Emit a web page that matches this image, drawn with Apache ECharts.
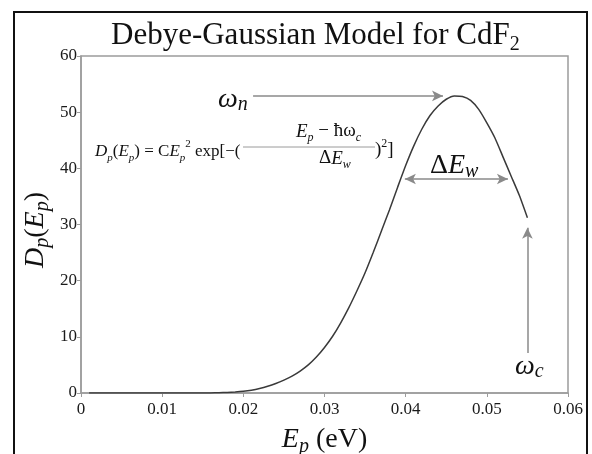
<!DOCTYPE html>
<html>
<head>
<meta charset="utf-8">
<script src="https://cdn.jsdelivr.net/npm/echarts@6/dist/echarts.min.js"></script>
<style>
  html, body { margin: 0; padding: 0; background: #fff; }
  #main { width: 592px; height: 454px; }
</style>
</head>
<body>
<div id="main"></div>
<script>
// phonon energy (eV) and density
var energies = [0.001, 0.002, 0.003, 0.004, 0.005, 0.006, 0.007, 0.008, 0.009, 0.010,
  0.011, 0.012, 0.013, 0.014, 0.015, 0.016, 0.017, 0.018, 0.019, 0.020,
  0.021, 0.022, 0.023, 0.024, 0.025, 0.026, 0.027, 0.028, 0.029, 0.030,
  0.031, 0.032, 0.033, 0.034, 0.035, 0.036, 0.037, 0.038, 0.039, 0.040,
  0.041, 0.042, 0.043, 0.044, 0.045, 0.046, 0.047, 0.048, 0.049, 0.050,
  0.051, 0.052, 0.053, 0.054, 0.055];
var density = [0, 0, 0, 0, 0, 0, 0, 0, 0, 0,
  0, 0, 0, 0, 0, 0.02, 0.05, 0.1, 0.18, 0.3,
  0.5, 0.8, 1.2, 1.7, 2.3, 3.0, 3.9, 5.0, 6.4, 8.1,
  10.1, 12.5, 15.2, 18.2, 21.4, 25.0, 28.8, 32.6, 36.6, 40.5,
  44.0, 47.0, 49.4, 51.1, 52.3, 52.9, 52.8, 52.1, 50.5, 48.1,
  45.4, 42.0, 38.6, 35.2, 31.2];
var yTicks = [0, 10, 20, 30, 40, 50, 60];
var xTicks = [0, 0.01, 0.02, 0.03, 0.04, 0.05, 0.06];

// annotation arrows (data coords)
var arrowOmegaN = [[0.0212, 52.9], [0.0446, 52.9]];
var arrowWidth = [[0.0399, 38.1], [0.0526, 38.1]];
var arrowOmegaC = [[0.0550, 7.1], [0.0550, 29.4]];

var serif = '"Liberation Serif", "DejaVu Serif", serif';
var grey = '#8a8a8a';

var chart = echarts.init(document.getElementById('main'));

var points = energies.map(function (e, i) { return [e, density[i]]; });

chart.setOption({
  animation: false,
  backgroundColor: '#fff',
  title: {
    text: 'Debye-Gaussian Model for CdF{s|2}',
    left: 106,
    top: 12,
    textStyle: {
      fontFamily: serif, fontSize: 31, fontWeight: 'normal', color: '#111',
      rich: {
        s: { fontFamily: serif, fontSize: 20, color: '#111', verticalAlign: 'bottom', lineHeight: 38 }
      }
    }
  },
  grid: {
    left: 81, right: 24, top: 56, bottom: 61,
    outerBoundsMode: 'none',
    containLabel: false,
    show: true, borderColor: '#9c9c9c', borderWidth: 1.5
  },
  xAxis: {
    type: 'value', min: 0, max: 0.06, interval: 0.01,
    axisLine: { lineStyle: { color: '#9c9c9c', width: 1.5 } },
    axisTick: { show: true, length: 4, lineStyle: { color: '#9c9c9c' } },
    splitLine: { show: false },
    axisLabel: {
      margin: 8, color: '#1a1a1a', fontFamily: serif, fontSize: 17,
      formatter: function (v) { return v === 0 ? '0' : v.toFixed(2); }
    },
    name: '{i|E}{si|p} (eV)',
    nameLocation: 'middle',
    nameGap: 30,
    nameTextStyle: {
      fontFamily: serif, fontSize: 28, color: '#111',
      rich: {
        i: { fontFamily: serif, fontSize: 28, fontStyle: 'italic', color: '#111' },
        si: { fontFamily: serif, fontSize: 20, fontStyle: 'italic', color: '#111', verticalAlign: 'bottom', lineHeight: 34 }
      }
    }
  },
  yAxis: {
    type: 'value', min: 0, max: 60, interval: 10,
    axisLine: { show: true, lineStyle: { color: '#9c9c9c', width: 1.5 } },
    axisTick: { show: true, length: 4, lineStyle: { color: '#9c9c9c' } },
    splitLine: { show: false },
    axisLabel: { margin: 4, color: '#1a1a1a', fontFamily: serif, fontSize: 17 }
  },
  series: [{
    type: 'line',
    data: points,
    showSymbol: false,
    smooth: 0.2,
    lineStyle: { color: '#3a3a3a', width: 1.5 },
    markLine: {
      silent: true,
      label: { show: false },
      lineStyle: { color: grey, width: 1.5, type: 'solid' },
      symbolSize: [8, 11],
      data: [
        [{ coord: arrowOmegaN[0], symbol: 'none' }, { coord: arrowOmegaN[1], symbol: 'arrow' }],
        [{ coord: arrowWidth[0], symbol: 'arrow' }, { coord: arrowWidth[1], symbol: 'arrow' }],
        [{ coord: arrowOmegaC[0], symbol: 'none' }, { coord: arrowOmegaC[1], symbol: 'arrow' }]
      ]
    }
  }],
  graphic: [
    // outer frame, open at the bottom edge
    { type: 'rect', shape: { x: 14, y: 12, width: 573, height: 470 },
      style: { fill: null, stroke: '#111', lineWidth: 2 }, silent: true },
    // y axis title D_p(E_p)
    { type: 'text', x: 36, y: 230, rotation: Math.PI / 2, style: {
      text: '{i|D}{s|p}({i|E}{s|p})', fontFamily: serif, fontSize: 28, fill: '#111',
      align: 'center', verticalAlign: 'middle',
      rich: {
        i: { fontFamily: serif, fontSize: 28, fontStyle: 'italic', fill: '#111' },
        s: { fontFamily: serif, fontSize: 20, fontStyle: 'italic', fill: '#111', verticalAlign: 'bottom', lineHeight: 34 }
      } } },
    // omega_n
    { type: 'text', left: 218, top: 86, style: {
      text: '{w|ω}{s|n}', fontFamily: serif,
      rich: {
        w: { fontFamily: serif, fontSize: 28, fontStyle: 'italic', fill: '#111' },
        s: { fontFamily: serif, fontSize: 20, fontStyle: 'italic', fill: '#111', verticalAlign: 'bottom', lineHeight: 30 }
      } } },
    // formula, left part
    { type: 'text', left: 95, top: 139, style: {
      text: '{i|D}{s|p}({i|E}{s|p}) = C{i|E}{s|p}{u|2} exp[−(', fontFamily: serif, fontSize: 17, fill: '#111',
      rich: {
        i: { fontFamily: serif, fontSize: 17, fontStyle: 'italic', fill: '#111' },
        s: { fontFamily: serif, fontSize: 11, fontStyle: 'italic', fill: '#111', verticalAlign: 'bottom', lineHeight: 25 },
        u: { fontFamily: serif, fontSize: 11, fill: '#111', verticalAlign: 'top', lineHeight: 24 }
      } } },
    // numerator
    { type: 'text', left: 296, top: 122, style: {
      text: '{i|E}{s|p} − ħω{s|c}', fontFamily: serif, fontSize: 19, fill: '#111',
      rich: {
        i: { fontFamily: serif, fontSize: 19, fontStyle: 'italic', fill: '#111' },
        s: { fontFamily: serif, fontSize: 12, fontStyle: 'italic', fill: '#111', verticalAlign: 'bottom', lineHeight: 25 }
      } } },
    // fraction bar
    { type: 'line', shape: { x1: 243, y1: 147, x2: 375, y2: 147 },
      style: { stroke: '#9a9a9a', lineWidth: 1 }, silent: true },
    // denominator
    { type: 'text', left: 319, top: 149, style: {
      text: 'Δ{i|E}{s|w}', fontFamily: serif, fontSize: 19, fill: '#111',
      rich: {
        i: { fontFamily: serif, fontSize: 19, fontStyle: 'italic', fill: '#111' },
        s: { fontFamily: serif, fontSize: 12, fontStyle: 'italic', fill: '#111', verticalAlign: 'bottom', lineHeight: 25 }
      } } },
    // closing part
    { type: 'text', left: 375, top: 138, style: {
      text: '){u|2}]', fontFamily: serif, fontSize: 19, fill: '#111',
      rich: {
        u: { fontFamily: serif, fontSize: 12, fill: '#111', verticalAlign: 'top', lineHeight: 25 }
      } } },
    // Delta E_w
    { type: 'text', left: 430, top: 152, style: {
      text: 'Δ{i|E}{s|w}', fontFamily: serif, fontSize: 28, fill: '#111',
      rich: {
        i: { fontFamily: serif, fontSize: 28, fontStyle: 'italic', fill: '#111' },
        s: { fontFamily: serif, fontSize: 20, fontStyle: 'italic', fill: '#111', verticalAlign: 'bottom', lineHeight: 32 }
      } } },
    // omega_c
    { type: 'text', left: 515, top: 353, style: {
      text: '{w|ω}{s|c}', fontFamily: serif,
      rich: {
        w: { fontFamily: serif, fontSize: 28, fontStyle: 'italic', fill: '#111' },
        s: { fontFamily: serif, fontSize: 20, fontStyle: 'italic', fill: '#111', verticalAlign: 'bottom', lineHeight: 30 }
      } } }
  ]
});
</script>
</body>
</html>
